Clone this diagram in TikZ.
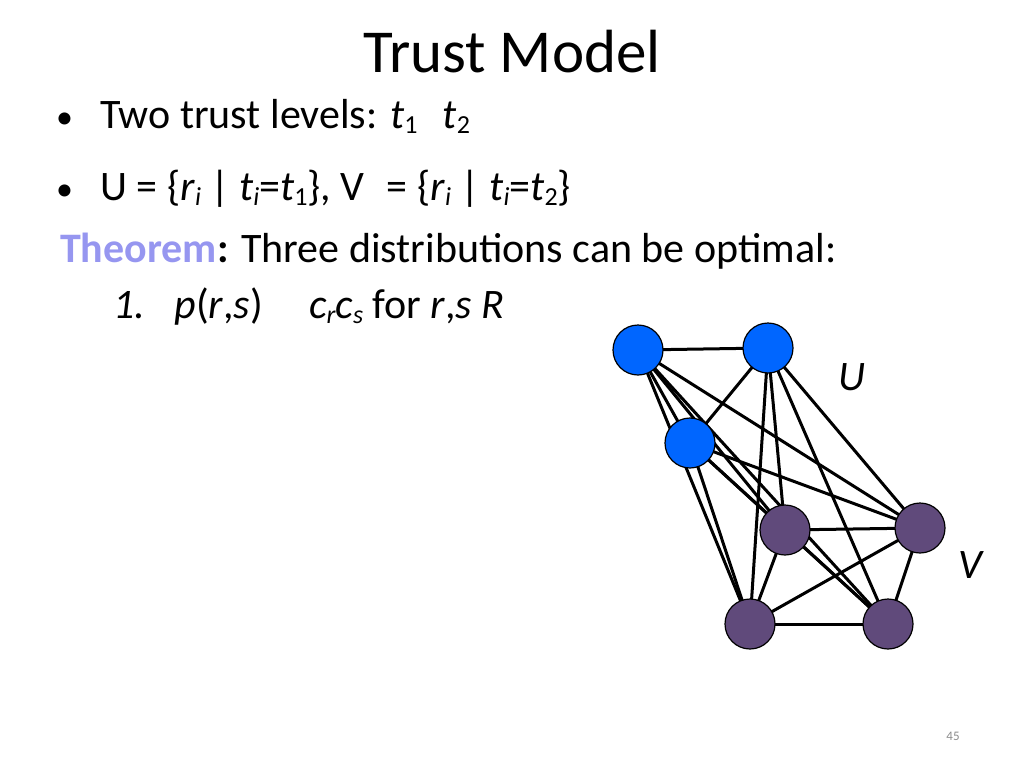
\documentclass[tikz,border=0pt]{standalone}
\usepackage{fontspec}
\setmainfont{Carlito}
\newcommand{\sbs}[1]{\raisebox{-0.25ex}{\fontsize{26}{28}\selectfont #1}}
\begin{document}
\begin{tikzpicture}[x=1pt,y=-1pt,
  blue node/.style={circle,draw=black,line width=1.2pt,fill={rgb,255:red,0;green,102;blue,255},minimum size=50pt,inner sep=0},
  purple node/.style={circle,draw=black,line width=1.2pt,fill={rgb,255:red,96;green,74;blue,123},minimum size=50pt,inner sep=0},
  edge/.style={line width=3pt,black},
  txt/.style={anchor=base west,inner sep=0,font=\fontsize{42}{46}\selectfont}]
\useasboundingbox (0,0) rectangle (1024,768);
\definecolor{thm}{RGB}{150,150,240}
\node[anchor=base,inner sep=0,font=\fontsize{61}{64}\selectfont] (title) at (512,72) {Trust Model};
\node[txt,font=\fontsize{34}{40}\selectfont] (b1) at (56,128) {•};
\node[txt] (l1) at (100,128) {Two trust levels: \textit{t}\sbs{1}\hspace{0.6em}\textit{t}\sbs{2}};
\node[txt,font=\fontsize{34}{40}\selectfont] (b2) at (56,200) {•};
\node[txt] (l2) at (100,200) {U = \{\textit{r}\sbs{\textit{i}} | \textit{t}\sbs{\textit{i}}=\textit{t}\sbs{1}\}, V\hspace{0.3em} = \{\textit{r}\sbs{\textit{i}} | \textit{t}\sbs{\textit{i}}=\textit{t}\sbs{2}\}};
\node[txt] (l3) at (60,262) {\textbf{\textcolor{thm}{Theorem}:} Three distributions can be optimal:};
\node[txt] (l4) at (113,318) {\textit{1.\hspace{0.4em} p}(\textit{r},\textit{s})\hspace{1.1em}\textit{c}\sbs{\textit{r}}\textit{c}\sbs{\textit{s}} for \textit{r},\textit{s R}};
\node[txt] (U) at (838,390) {\textit{U}};
\node[txt] (V) at (958,578) {\textit{V}};
\node[anchor=base,inner sep=0,font=\fontsize{13}{15}\selectfont,text={rgb,255:red,140;green,140;blue,140}] (pg) at (953,740) {45};
\coordinate (a) at (638,350);
\coordinate (b) at (768,348);
\coordinate (c) at (690,443);
\coordinate (d) at (785,530);
\coordinate (e) at (920,528);
\coordinate (f) at (750,624);
\coordinate (g) at (888,624);
\foreach \p/\q in {a/b,a/c,a/d,a/e,a/f,a/g,b/c,b/d,b/e,b/f,b/g,c/d,c/e,c/f,c/g,d/e,d/f,d/g,e/f,e/g,f/g}
  \draw[edge] (\p) -- (\q);
\node[blue node] (na) at (a) {};
\node[blue node] (nb) at (b) {};
\node[blue node] (nc) at (c) {};
\node[purple node] (nd) at (d) {};
\node[purple node] (ne) at (e) {};
\node[purple node] (nf) at (f) {};
\node[purple node] (ng) at (g) {};
\end{tikzpicture}
\end{document}
